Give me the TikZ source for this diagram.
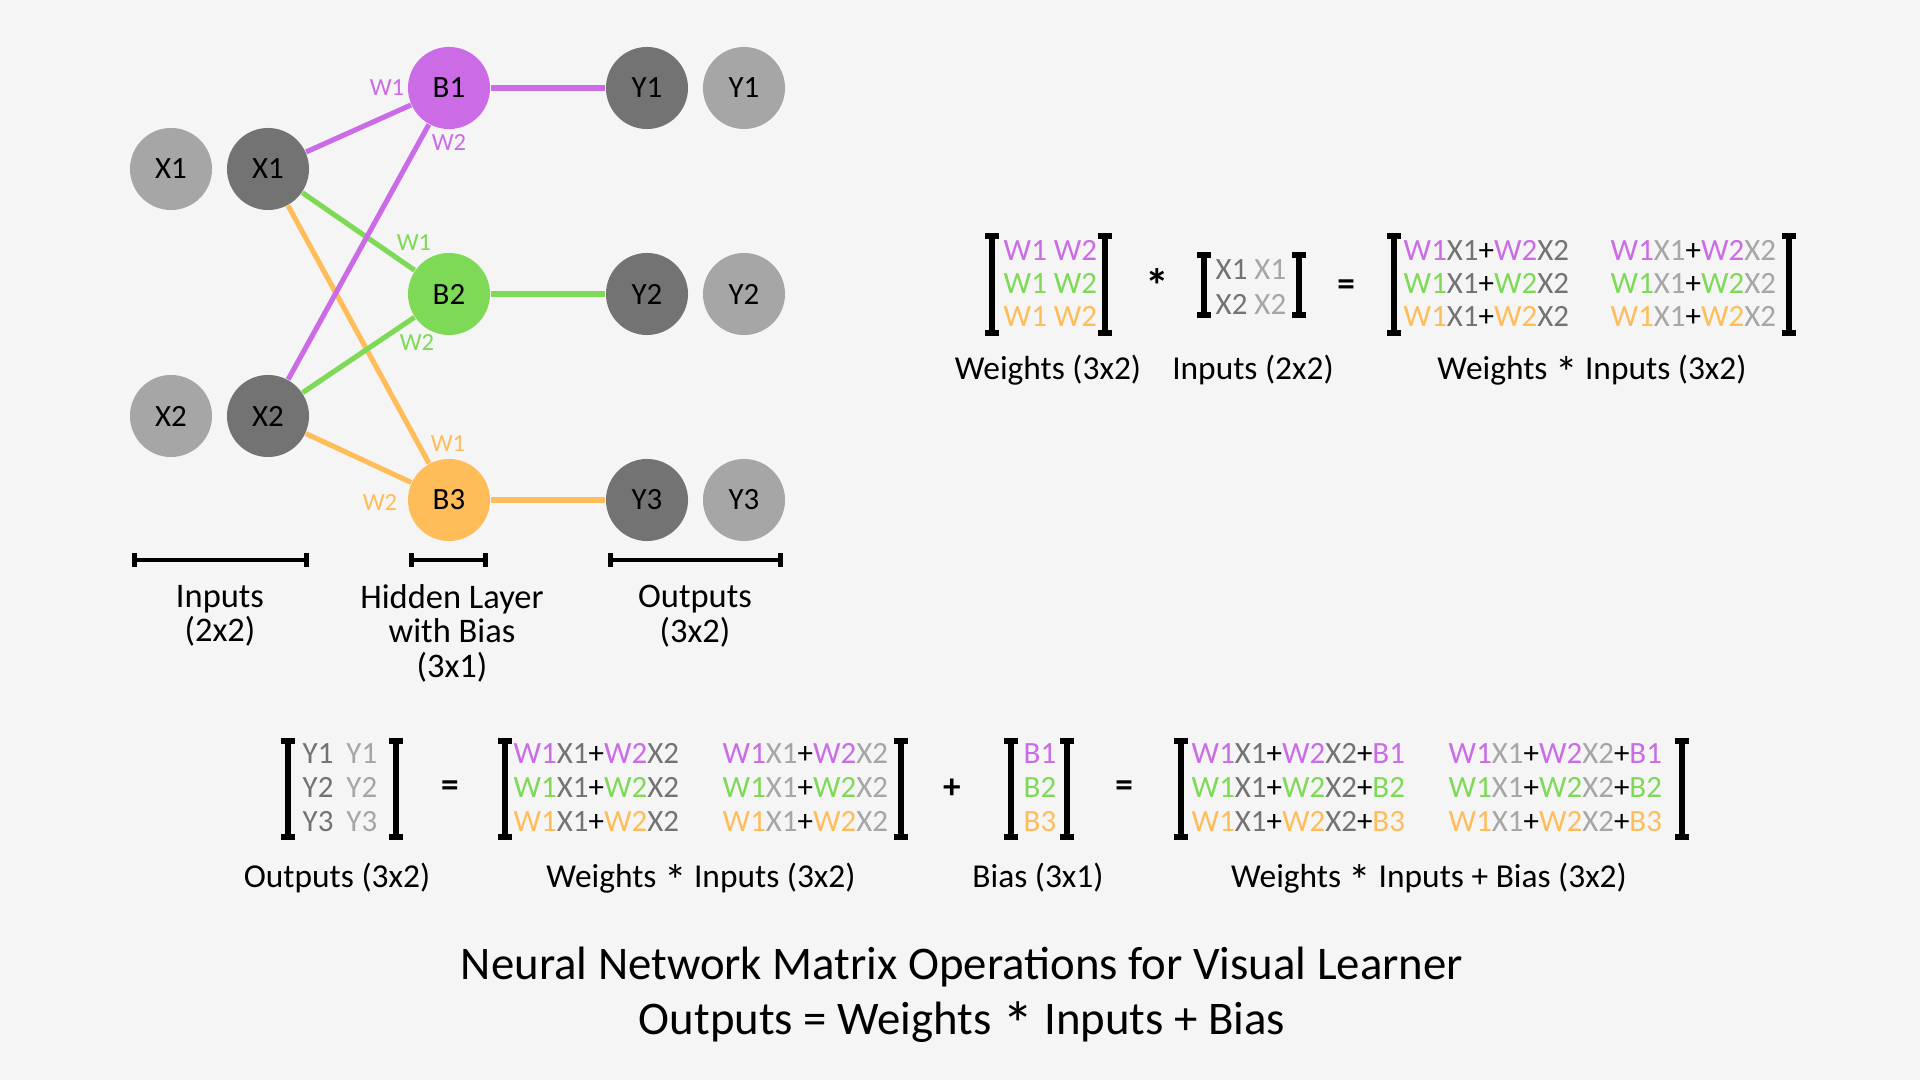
\documentclass[tikz,border=0pt]{standalone}
\usepackage{fontspec}
\usepackage{graphicx}
\setmainfont{Carlito}
\usetikzlibrary{arrows.meta}

\definecolor{nnbg}{HTML}{F5F5F5}
\definecolor{nnpurple}{HTML}{CB6CE6}
\definecolor{nngreen}{HTML}{7ED957}
\definecolor{nnorange}{HTML}{FFBD59}
\definecolor{nndark}{HTML}{737373}
\definecolor{nnlight}{HTML}{A6A6A6}

% one weighted sum W1X1+W2X2 in a weight colour and an input colour
\newcommand{\wsum}[2]{\textcolor{#1}{W1}\textcolor{#2}{X1}+\textcolor{#1}{W2}\textcolor{#2}{X2}}
% the multiplication star, set lower than the font has it
\newcommand{\nnstar}{\raisebox{-0.26em}{\scalebox{1.35}{*}}}

\begin{document}
\begin{tikzpicture}[x=0.01cm, y=-0.01cm,
	neuron/.style={circle, inner sep=0pt, minimum size=0.82cm, font=\fontsize{8.8}{10}\selectfont},
	darkneuron/.style={neuron, fill=nndark},
	lightneuron/.style={neuron, fill=nnlight},
	wlabel/.style={inner sep=0pt, font=\fontsize{7}{8}\selectfont},
	wire/.style={line width=1.45pt},
	layerbar/.style={line width=1.3pt, {Bar[width=1.4mm]}-{Bar[width=1.4mm]}},
	bracket/.style={line width=1.6pt, {Bar[width=1.4mm]}-{Bar[width=1.4mm]}},
	layerlabel/.style={align=center, inner sep=0pt, font=\fontsize{9.8}{9.8}\selectfont},
	entry/.style={anchor=base west, inner sep=0pt, font=\fontsize{8.8}{10}\selectfont},
	mlabel/.style={anchor=base, inner sep=0pt, font=\fontsize{9.5}{10}\selectfont},
	op/.style={inner sep=0pt, font=\fontsize{10}{10}\selectfont\bfseries}]
	\fill[nnbg] (0,0) rectangle (1920,1080);

	% network
	\node[lightneuron] (x1l) at (171,169) {X1};
	\node[darkneuron] (x1) at (268,169) {X1};
	\node[lightneuron] (x2l) at (171,416) {X2};
	\node[darkneuron] (x2) at (268,416) {X2};
	\node[neuron, fill=nnpurple] (b1) at (449,88) {B1};
	\node[neuron, fill=nngreen] (b2) at (449,294) {B2};
	\node[neuron, fill=nnorange] (b3) at (449,500) {B3};
	\node[darkneuron] (y1) at (647,88) {Y1};
	\node[lightneuron] (y1l) at (744,88) {Y1};
	\node[darkneuron] (y2) at (647,294) {Y2};
	\node[lightneuron] (y2l) at (744,294) {Y2};
	\node[darkneuron] (y3) at (647,500) {Y3};
	\node[lightneuron] (y3l) at (744,500) {Y3};

	\draw[wire, nnorange] (x1) -- (b3);
	\draw[wire, nnorange] (x2) -- (b3);
	\draw[wire, nngreen] (x1) -- (b2);
	\draw[wire, nngreen] (x2) -- (b2);
	\draw[wire, nnpurple] (x1) -- (b1);
	\draw[wire, nnpurple] (x2) -- (b1);
	\draw[wire, nnpurple] (b1) -- (y1);
	\draw[wire, nngreen] (b2) -- (y2);
	\draw[wire, nnorange] (b3) -- (y3);

	\node[wlabel, text=nnpurple] (b1w1) at (387,88) {W1};
	\node[wlabel, text=nnpurple] (b1w2) at (449,143) {W2};
	\node[wlabel, text=nngreen] (b2w1) at (414,243) {W1};
	\node[wlabel, text=nngreen] (b2w2) at (417,343) {W2};
	\node[wlabel, text=nnorange] (b3w1) at (448,444) {W1};
	\node[wlabel, text=nnorange] (b3w2) at (380,503) {W2};

	\draw[layerbar] (132,560) -- (309,560);
	\draw[layerbar] (409,560) -- (488,560);
	\draw[layerbar] (608,560) -- (783,560);
	\node[layerlabel] (inlabel) at (220,616) {Inputs\\(2x2)};
	\node[layerlabel] (hidlabel) at (452,633) {Hidden Layer\\with Bias\\(3x1)};
	\node[layerlabel] (outlabel) at (695,616) {Outputs\\(3x2)};

	% weights * inputs
	\draw[bracket] (992,233) -- (992,336);
	\draw[bracket] (1105,233) -- (1105,336);
	\node[op] (times) at (1157,286) {\nnstar};
	\draw[bracket] (1204,252) -- (1204,318);
	\draw[bracket] (1299,252) -- (1299,318);
	\node[entry] (in1) at (1215,280) {\textcolor{nndark}{X1} \textcolor{nnlight}{X1}};
	\node[entry] (in2) at (1215,315) {\textcolor{nndark}{X2} \textcolor{nnlight}{X2}};
	\node[op] (eqtop) at (1346,288) {=};
	\draw[bracket] (1394,233) -- (1394,336);
	\draw[bracket] (1789,233) -- (1789,336);
	\foreach \c [count=\i] in {nnpurple, nngreen, nnorange} {
		\node[entry] (w\i) at (1003,228+33*\i) {\textcolor{\c}{W1 W2}};
		\node[entry] (wxa\i) at (1403,228+33*\i) {\wsum{\c}{nndark}};
		\node[entry] (wxb\i) at (1610,228+33*\i) {\wsum{\c}{nnlight}};
	}
	\node[mlabel] (wlab) at (1048,380) {Weights (3x2)};
	\node[mlabel] (inlab) at (1253,380) {Inputs (2x2)};
	\node[mlabel] (wxlab) at (1592,380) {Weights \nnstar{} Inputs (3x2)};

	% outputs = weights * inputs + bias
	\draw[bracket] (288,738) -- (288,840);
	\draw[bracket] (396,738) -- (396,840);
	\node[op] (eqa) at (450,789) {=};
	\draw[bracket] (505,738) -- (505,840);
	\draw[bracket] (901,738) -- (901,840);
	\node[op] (plus) at (952,789) {+};
	\draw[bracket] (1011,738) -- (1011,840);
	\draw[bracket] (1067,738) -- (1067,840);
	\node[op] (eqb) at (1124,789) {=};
	\draw[bracket] (1181,738) -- (1181,840);
	\draw[bracket] (1682,738) -- (1682,840);
	\foreach \c [count=\i] in {nnpurple, nngreen, nnorange} {
		\node[entry] (y\i row) at (302,730+34*\i) {\textcolor{nndark}{Y\i}\hspace{0.42em}\textcolor{nnlight}{Y\i}};
		\node[entry] (pa\i) at (513,730+34*\i) {\wsum{\c}{nndark}};
		\node[entry] (pb\i) at (722,730+34*\i) {\wsum{\c}{nnlight}};
		\node[entry] (bias\i) at (1023,730+34*\i) {\textcolor{\c}{B\i}};
		\node[entry] (sa\i) at (1191,730+34*\i) {\wsum{\c}{nndark}+\textcolor{\c}{B\i}};
		\node[entry] (sb\i) at (1448,730+34*\i) {\wsum{\c}{nnlight}+\textcolor{\c}{B\i}};
	}
	\node[mlabel] (outlab) at (337,888) {Outputs (3x2)};
	\node[mlabel] (prodlab) at (701,888) {Weights \nnstar{} Inputs (3x2)};
	\node[mlabel] (biaslab) at (1038,888) {Bias (3x1)};
	\node[mlabel] (sumlab) at (1429,888) {Weights \nnstar{} Inputs + Bias (3x2)};

	\node[align=center, inner sep=0pt, font=\fontsize{13.3}{15.6}\selectfont] (title) at (962,997)
		{Neural Network Matrix Operations for Visual Learner\\Outputs = Weights \nnstar{} Inputs + Bias};
\end{tikzpicture}
\end{document}
